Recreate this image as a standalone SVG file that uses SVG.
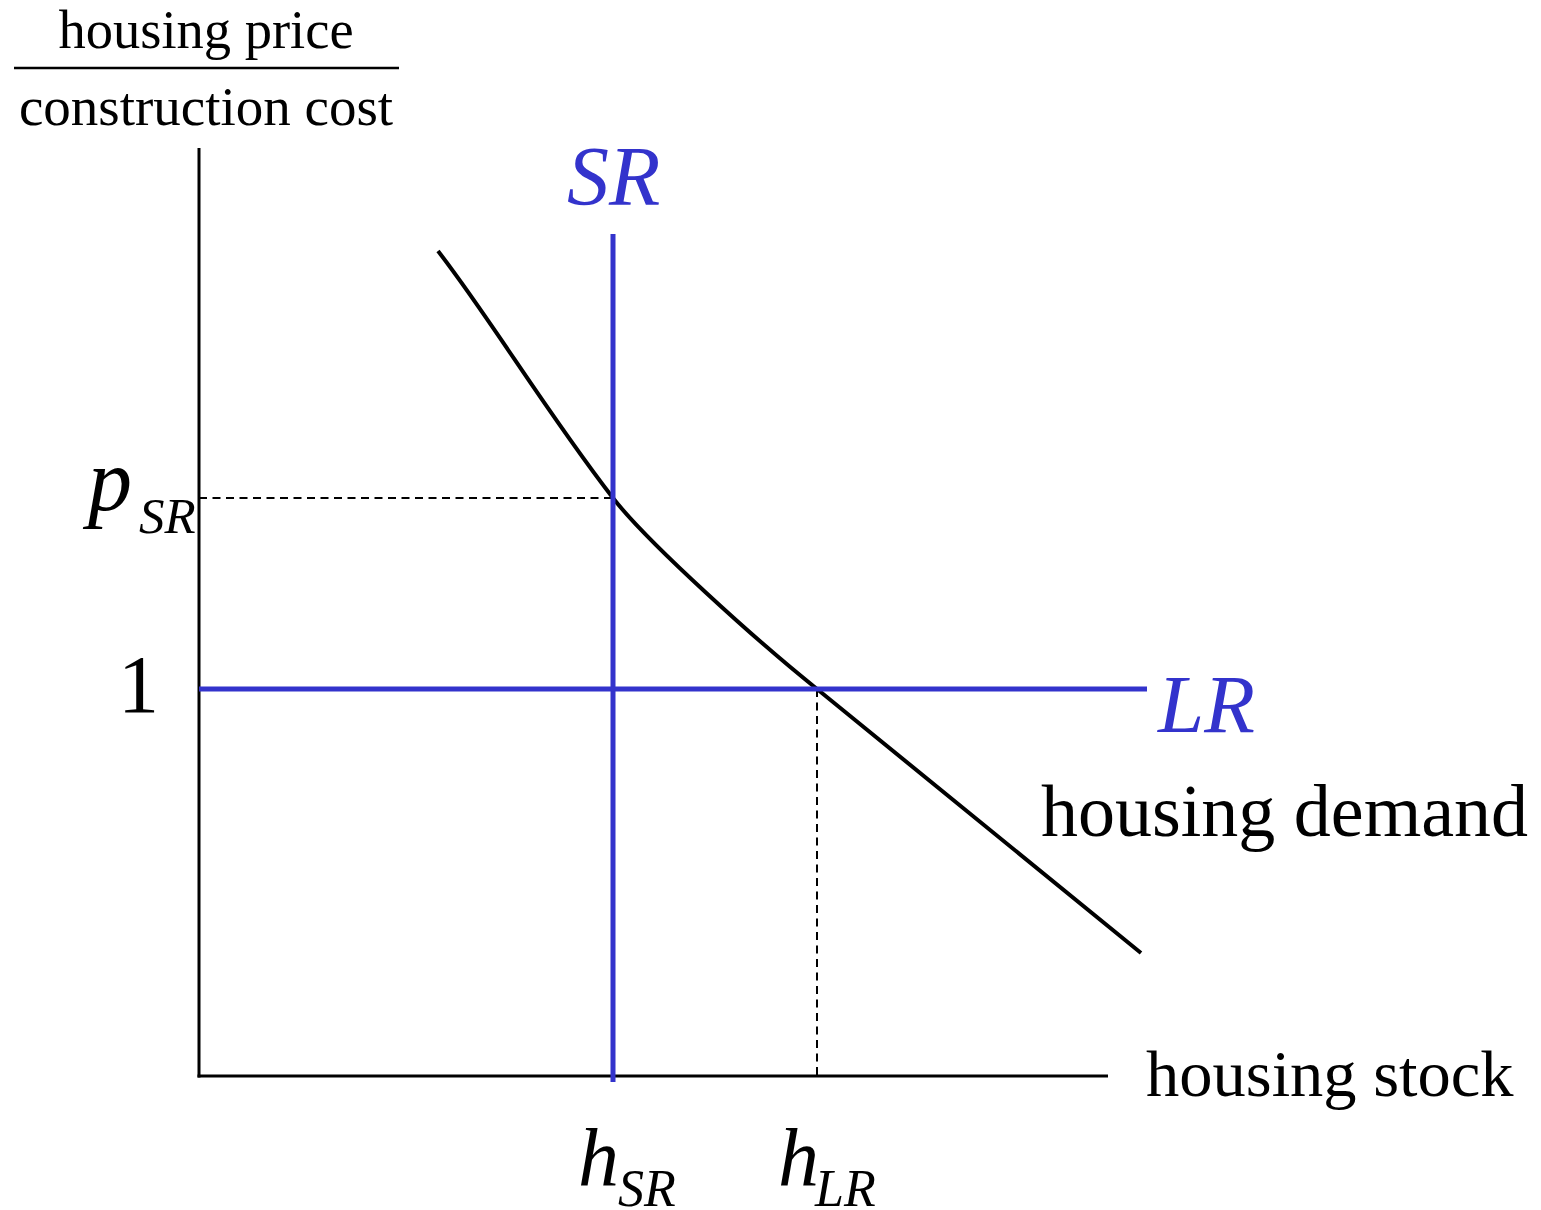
<svg xmlns="http://www.w3.org/2000/svg" width="1541" height="1210" viewBox="0 0 1541 1210">
<style>
text { font-family: "Liberation Serif", "Times New Roman", serif; fill: #000; }
.it { font-style: italic; }
.blue { fill: #3333cc; }
.axis { stroke: #000; stroke-width: 3; fill: none; }
.dash { stroke: #000; stroke-width: 2; stroke-dasharray: 8 5.5; fill: none; }
.supply { stroke: #3333cc; stroke-width: 5; fill: none; }
.demand { stroke: #000; stroke-width: 4; fill: none; }
</style>
<rect width="1541" height="1210" fill="#fff"/>
<g id="y-axis-label">
  <text x="206" y="48" font-size="54.5" text-anchor="middle">housing price</text>
  <line x1="14" y1="68" x2="399" y2="68" stroke="#000" stroke-width="2.5"/>
  <text x="206" y="125" font-size="55" text-anchor="middle">construction cost</text>
</g>
<g id="axes">
  <line class="axis" x1="199" y1="148" x2="199" y2="1077.5"/>
  <line class="axis" x1="197.5" y1="1076" x2="1108" y2="1076"/>
</g>
<g id="connectors">
  <line class="dash" x1="199" y1="498" x2="613" y2="498"/>
  <line class="dash" x1="817" y1="689" x2="817" y2="1076"/>
</g>
<g id="demand-curve">
  <path class="demand" d="M438,251 C490,318 545,410 613,498 C647,542 757,641 817,689 L1141,953"/>
</g>
<g id="sr-line">
  <line class="supply" x1="613" y1="234" x2="613" y2="1082"/>
</g>
<g id="lr-line">
  <line class="supply" x1="199" y1="689" x2="1147" y2="689"/>
</g>
<g id="sr-label">
  <text class="it blue" x="567" y="205" font-size="84">SR</text>
</g>
<g id="lr-label">
  <text class="it blue" x="1158" y="732" font-size="83">LR</text>
</g>
<g id="demand-label">
  <text x="1041" y="836" font-size="74">housing demand</text>
</g>
<g id="x-axis-label">
  <text x="1146" y="1096" font-size="66.5">housing stock</text>
</g>
<g id="one-label">
  <text x="118" y="712" font-size="82">1</text>
</g>
<g id="psr-label">
  <text class="it" x="88" y="510" font-size="88">p</text>
  <text class="it" x="139" y="533" font-size="51">SR</text>
</g>
<g id="hsr-label">
  <text class="it" x="578" y="1185" font-size="82">h</text>
  <text class="it" x="618" y="1206" font-size="52">SR</text>
</g>
<g id="hlr-label">
  <text class="it" x="778" y="1185" font-size="82">h</text>
  <text class="it" x="815" y="1206" font-size="52">LR</text>
</g>
</svg>
